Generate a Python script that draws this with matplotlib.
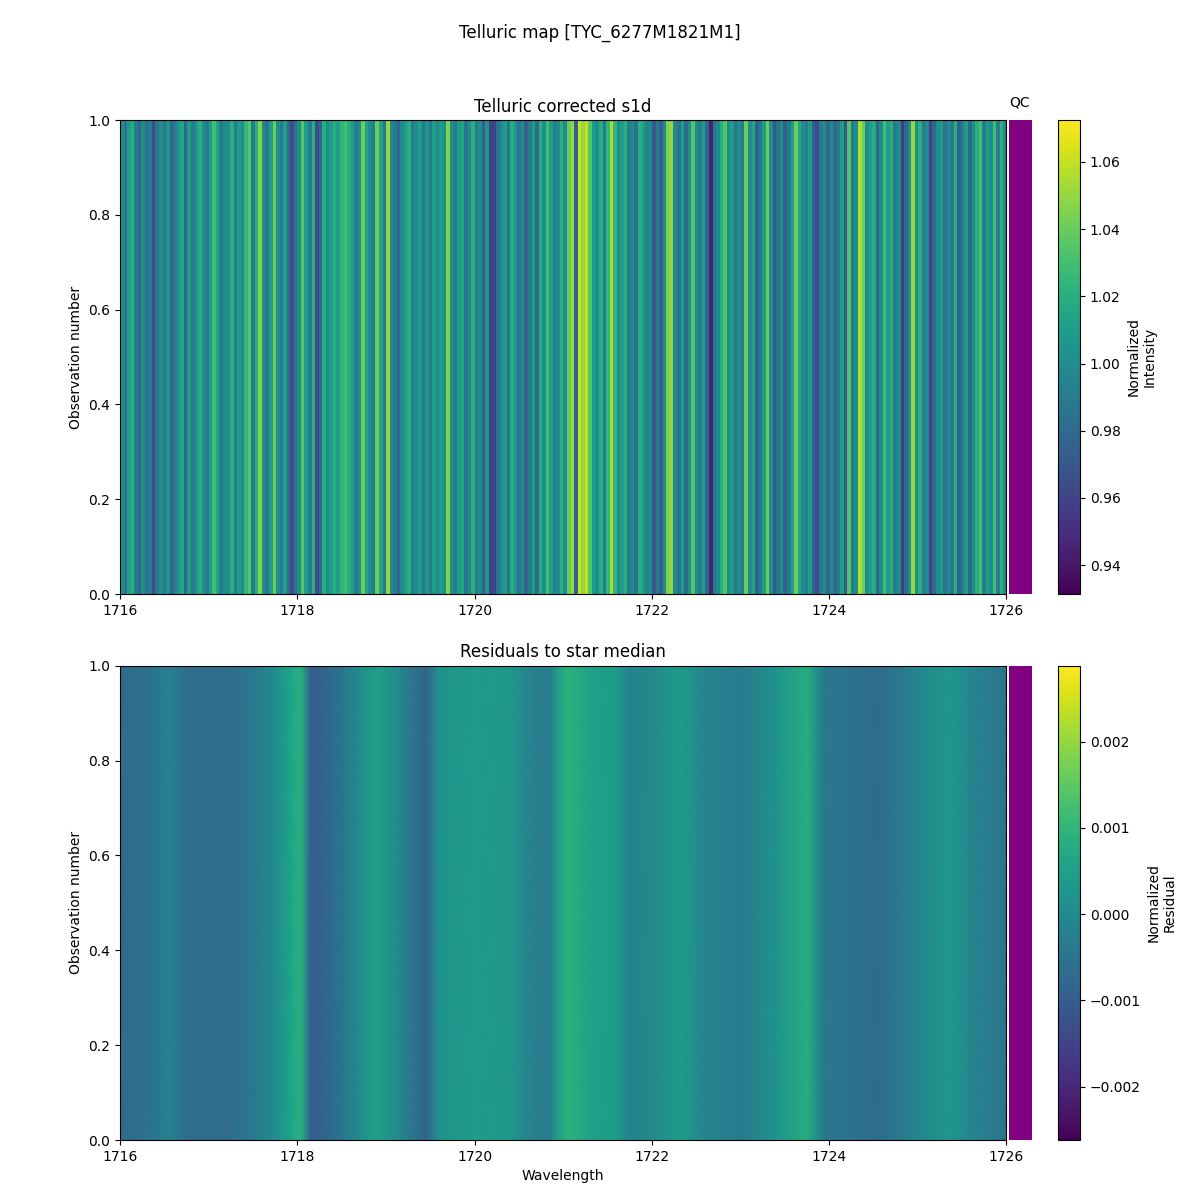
import numpy as np
import matplotlib.pyplot as plt

object_name = 'TYC_6277M1821M1'
wave_min = 1716
wave_max = 1726

# telluric corrected flux, read across the map from left to right
corrected_flux = [
    1.00, .985, 1.01, 1.02, .99, .98, 1.00, .985, .99, .965,
    .985, 1.00, .99, 1.005, .975, .99, 1.005, 1.015, .98, 1.01,
    .99, 1.005, 1.02, 1.00, .99, 1.01, 1.03, 1.015, .99, 1.00,
    1.00, 1.02, .99, 1.01, 1.00, 1.025, 1.035, .99, 1.02, 1.045,
    1.00, .985, 1.01, 1.04, 1.00, .99, 1.01, .98, .965, .985,
    1.00, 1.035, 1.01, .99, 1.02, .965, .98, 1.02, 1.00, 1.01,
    1.02, 1.01, 1.025, 1.03, 1.02, 1.01, .99, 1.00, 1.04, 1.015,
    1.00, .99, 1.04, 1.015, .985, 1.05, 1.00, .99, .98, 1.00,
    1.01, 1.02, .99, 1.00, 1.01, .985, 1.005, .99, 1.01, 1.00,
    1.01, 1.00, 1.045, 1.00, .99, 1.01, 1.015, .985, 1.00, 1.02,
    .99, 1.00, .975, 1.005, .96, .96, .985, 1.00, 1.01, .985,
    1.02, 1.005, .985, 1.00, .975, .99, 1.01, .98, 1.02, 1.00,
    1.03, 1.01, .99, 1.00, 1.02, 1.00, 1.04, 1.05, .975, 1.06,
    1.05, 1.06, 1.035, 1.01, 1.00, 1.02, .99, 1.025, 1.055, 1.025,
    1.00, 1.01, 1.02, .99, 1.00, .985, 1.02, 1.01, .995, 1.00,
    .97, .99, .975, 1.00, 1.045, 1.05, 1.00, .985, 1.01, .98,
    1.00, 1.035, 1.00, .99, 1.01, .98, .945, .99, 1.00, 1.02,
    1.035, 1.00, 1.01, .985, 1.00, .99, 1.04, 1.00, 1.015, .975,
    .99, 1.01, 1.04, 1.00, .97, .985, 1.00, .975, .99, 1.01,
    1.04, 1.015, 1.00, .99, 1.01, .975, .965, .99, 1.00, .98,
    1.00, .98, .99, 1.01, .97, 1.035, .99, 1.00, 1.055, 1.04,
    1.00, 1.01, 1.02, .98, 1.00, 1.03, 1.01, 1.02, .99, 1.00,
    .955, .98, 1.00, 1.05, 1.00, 1.02, .99, 1.00, .96, .98,
    1.00, 1.01, .985, 1.00, .99, 1.02, .975, .99, 1.01, .98,
    1.00, 1.02, 1.03, .99, 1.01, 1.00, 1.03, .99, 1.02, 1.00,
]

# residuals to the star median at a few wavelengths
residual_wave = [
    1716.0, 1716.3, 1716.5, 1716.6, 1716.75, 1717.2, 1717.5, 1717.7, 1717.9,
    1718.0, 1718.05, 1718.15, 1718.3, 1718.5, 1718.8, 1718.9, 1719.2, 1719.45,
    1719.6, 1720.0, 1720.4, 1720.7, 1720.85, 1720.95, 1721.05, 1721.3, 1721.6,
    1721.75, 1722.0, 1722.3, 1722.6, 1723.0, 1723.4, 1723.75, 1723.85, 1723.95,
    1724.3, 1724.6, 1725.0, 1725.35, 1725.6, 1726.0,
]
residual_flux = [
    -.0007, -.0006, -.0003, -.0003, -.0007, -.0007, -.0004, -.0001, .0005,
    .0008, .0008, -.0010, -.0009, -.0005, .0003, .0005, -.0002, -.0009,
    .0002, .0004, .0003, -.0003, -.0003, .0005, .0009, .0005, .0004,
    -.0002, .0000, .0004, -.0001, -.0004, .0002, .0008, .0002, -.0004,
    -.0006, -.0007, -.0001, .0003, -.0001, -.0005,
]

fig = plt.figure(figsize=(12, 12), dpi=100)
fig.suptitle('Telluric map [{0}]'.format(object_name), y=0.98)


def add_panel(top, height):
    # positions are in pixels of the 1200x1200 figure
    bottom = 1 - (top + height)/1200
    ax = fig.add_axes([120/1200, bottom, 886.3/1200, height/1200])
    qc_ax = fig.add_axes([1009/1200, bottom, 23/1200, height/1200])
    cax = fig.add_axes([1058/1200, bottom, 22/1200, height/1200])
    qc_ax.set_facecolor('purple')
    qc_ax.set_xticks([])
    qc_ax.set_yticks([])
    for spine in qc_ax.spines.values():
        spine.set_visible(False)
    return ax, qc_ax, cax


# top panel
ax1, qc1, cax1 = add_panel(120, 474)
im1 = ax1.imshow([corrected_flux, corrected_flux], aspect='auto', cmap='viridis',
                 extent=[wave_min, wave_max, 0, 1], vmin=0.9314, vmax=1.0725,
                 interpolation='nearest')
ax1.set_xlim(wave_min, wave_max)
ax1.set_ylim(0, 1)
ax1.set_title('Telluric corrected s1d')
ax1.set_ylabel('Observation number')
qc1.set_title('QC', fontsize=10, pad=9.5, x=0.45)
cb1 = fig.colorbar(im1, cax=cax1)
cb1.set_label('Normalized\nIntensity')

# bottom panel
ax2, qc2, cax2 = add_panel(665.6, 474.6)
im2 = ax2.pcolormesh(residual_wave, [0, 1], [residual_flux, residual_flux],
                     shading='gouraud', cmap='viridis', vmin=-0.00262, vmax=0.00288)
ax2.set_xlim(wave_min, wave_max)
ax2.set_ylim(0, 1)
ax2.set_title('Residuals to star median')
ax2.set_xlabel('Wavelength')
ax2.set_ylabel('Observation number')
cb2 = fig.colorbar(im2, cax=cax2)
cb2.set_label('Normalized\nResidual')

fig.savefig('out.png', dpi=100)
